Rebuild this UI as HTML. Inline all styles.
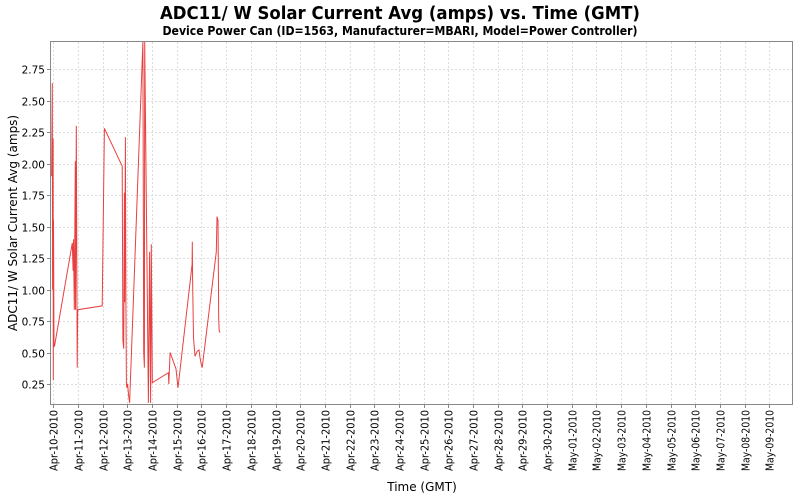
<!DOCTYPE html>
<html><head><meta charset="utf-8"><style>
html,body{margin:0;padding:0;background:#fff;width:800px;height:500px;overflow:hidden}
svg text{font-family:"DejaVu Sans","Liberation Sans",sans-serif}
</style></head><body>
<svg id="chart" width="800" height="500" xmlns="http://www.w3.org/2000/svg">
<text x="400" y="19" text-anchor="middle" font-size="18" font-weight="bold" textLength="480" lengthAdjust="spacingAndGlyphs">ADC11/ W Solar Current Avg (amps) vs. Time (GMT)</text>
<text x="400" y="35" text-anchor="middle" font-size="12" font-weight="bold" textLength="475" lengthAdjust="spacingAndGlyphs">Device Power Can (ID=1563, Manufacturer=MBARI, Model=Power Controller)</text>
<g id="grid"></g><g id="yticks"></g><g id="xticks"></g>
<path id="series" fill="none" stroke="#e84040" stroke-width="1"/>
<rect x="50.5" y="41.5" width="742" height="363" fill="none" stroke="#888"/>
<text transform="translate(17,223) rotate(-90)" text-anchor="middle" font-size="12">ADC11/ W Solar Current Avg (amps)</text>
<text x="422" y="491" text-anchor="middle" font-size="12">Time (GMT)</text>
</svg>
<script>
const days=[-0.07,-0.04,-0.03,-0.01,0,0.01,0.03,0.05,0.77,0.80,0.82,0.85,0.89,0.90,0.93,0.96,0.97,0.99,1.98,2.07,2.79,2.82,2.85,2.88,2.89,2.92,2.94,2.96,2.98,3.01,3.05,3.09,3.56,3.63,3.66,3.69,3.70,3.85,3.90,3.94,3.97,4.01,4.66,4.68,4.73,4.97,5.05,5.62,5.63,5.64,5.68,5.74,5.83,5.90,5.94,6.00,6.03,6.60,6.63,6.67,6.70,6.72,6.76];
const values=[1.9,2.64,1.0,2.2,0.28,1.55,0.55,0.55,1.37,1.15,1.4,0.84,2.02,0.84,2.3,0.85,0.38,0.84,0.87,2.28,1.98,0.6,0.53,1.77,0.9,2.21,0.95,0.25,0.22,0.25,0.16,0.1,2.6,2.97,0.5,0.38,2.97,0.1,1.3,0.1,1.36,0.26,0.34,0.25,0.5,0.37,0.22,1.2,1.38,1.08,0.62,0.47,0.51,0.52,0.46,0.4,0.38,1.3,1.58,1.55,0.77,0.67,0.66];
const yTicks=[0.25,0.5,0.75,1.0,1.25,1.5,1.75,2.0,2.25,2.5,2.75];
const xLabels=["Apr-10-2010","Apr-11-2010","Apr-12-2010","Apr-13-2010","Apr-14-2010","Apr-15-2010","Apr-16-2010","Apr-17-2010","Apr-18-2010","Apr-19-2010","Apr-20-2010","Apr-21-2010","Apr-22-2010","Apr-23-2010","Apr-24-2010","Apr-25-2010","Apr-26-2010","Apr-27-2010","Apr-28-2010","Apr-29-2010","Apr-30-2010","May-01-2010","May-02-2010","May-03-2010","May-04-2010","May-05-2010","May-06-2010","May-07-2010","May-08-2010","May-09-2010"];
const NS='http://www.w3.org/2000/svg';
const X=d=>53.3+d*24.69;
const Y=v=>384-(v-0.25)*125.9;
const grid=document.getElementById('grid'),yt=document.getElementById('yticks'),xt=document.getElementById('xticks');
function mk(tag,attrs,parent){const e=document.createElementNS(NS,tag);for(const k in attrs)e.setAttribute(k,attrs[k]);parent.appendChild(e);return e;}
yTicks.forEach(v=>{const y=Math.round(Y(v))+0.5;
 const g=mk('line',{x1:51,x2:792,y1:y,y2:y,stroke:'#ddd','stroke-dasharray':'2,2'},grid);
 
 
 mk('line',{x1:47,x2:50,y1:y,y2:y,stroke:'#888'},yt);
 const t=mk('text',{x:45,y:y+4,'text-anchor':'end','font-size':'10.5'},yt);t.textContent=v.toFixed(2);
 
 
});
xLabels.forEach((s,i)=>{const x=Math.round(X(i))+0.5;
 const g=mk('line',{x1:x,x2:x,y1:42,y2:404,stroke:'#ddd','stroke-dasharray':'2,2'},grid);
 
 
 mk('line',{x1:x,x2:x,y1:405,y2:408,stroke:'#888'},xt);
 const t=mk('text',{transform:`translate(${x+4},410) rotate(-90)`,'text-anchor':'end','font-size':'10.5',textLength:'61',lengthAdjust:'spacingAndGlyphs'},xt);t.textContent=s;
 
 
});
document.getElementById('series').setAttribute('d',days.map((d,i)=>(i?'L':'M')+X(d).toFixed(1)+','+Y(values[i]).toFixed(1)).join(''));
</script>
</body></html>
